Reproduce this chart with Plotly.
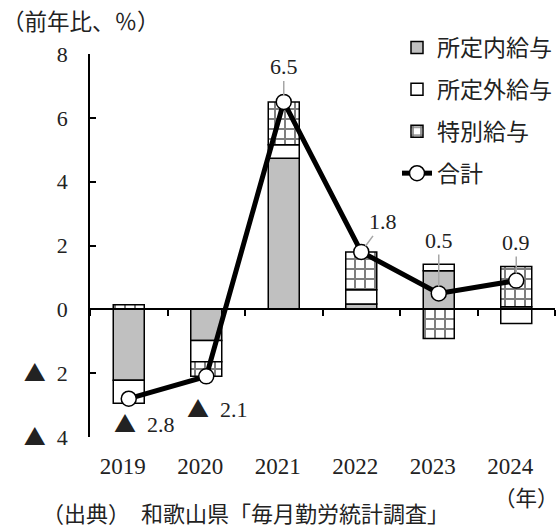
import plotly.graph_objects as go

years = ["2019", "2020", "2021", "2022", "2023", "2024"]
scheduled = [-2.22, -0.98, 4.73, 0.17, 1.21, 0.08]      # 所定内給与
overtime = [-0.72, -0.66, 0.43, 0.44, 0.20, -0.44]      # 所定外給与
special = [0.14, -0.46, 1.34, 1.19, -0.91, 1.26]        # 特別給与
total = [-2.8, -2.1, 6.5, 1.8, 0.5, 0.9]                # 合計

y_ticks = [8, 6, 4, 2, 0, -2, -4]

FONT = "Liberation Serif, Noto Sans CJK JP, DejaVu Sans"
JFONT = "Noto Sans CJK JP"
TRI = '<span style="font-family:Noto Sans CJK JP">▲</span>'

W, H = 560, 527
ML, MR, MT, MB = 90, 5, 54, 90
PW, PH = W - ML - MR, H - MT - MB

def px_x(px):
    return (px - ML) / PW

def px_y(py):
    return (H - MB - py) / PH

def fmt(v, digits=1):
    s = f"{abs(v):.{digits}f}" if digits else f"{abs(v):g}"
    return (TRI + "\u00a0\u00a0" if v < 0 else "") + s

y_ticktext = [fmt(t, 0) for t in y_ticks]

fig = go.Figure()
bw = 0.4
fig.add_trace(go.Bar(x=years, y=scheduled, name="所定内給与", width=bw,
                     marker=dict(color="#c0c0c0", line=dict(color="black", width=1.5)),
                     legendgroup="a"))
fig.add_trace(go.Bar(x=years, y=overtime, name="所定外給与", width=bw,
                     marker=dict(color="white", line=dict(color="black", width=1.5)),
                     legendgroup="b"))
fig.add_trace(go.Bar(x=years, y=special, name="特別給与", width=bw,
                     marker=dict(color="white", line=dict(color="black", width=1.5),
                                 pattern=dict(shape="+", fgcolor="black", bgcolor="white",
                                              size=10, solidity=0.36)),
                     legendgroup="c"))
fig.add_trace(go.Scatter(x=years, y=total, name="合計", mode="lines+markers",
                         line=dict(color="black", width=5),
                         marker=dict(symbol="circle", size=15, color="white",
                                     line=dict(color="black", width=1.5)),
                         legendgroup="d"))
# invisible trace that carries the zero-line axis with boundary ticks
fig.add_trace(go.Scatter(x=years, y=[None] * len(years), xaxis="x2", showlegend=False,
                         hoverinfo="skip", mode="markers"))

# value labels (category axes take the category index for annotations)
offsets = [
    dict(showarrow=False, xshift=16, yshift=-23),
    dict(showarrow=False, xshift=11, yshift=-31),
    dict(showarrow=True, ax=0, ay=-35),
    dict(showarrow=True, ax=22, ay=-30),
    dict(showarrow=True, ax=0, ay=-53),
    dict(showarrow=True, ax=0, ay=-38),
]
for i, (v, o) in enumerate(zip(total, offsets)):
    fig.add_annotation(x=i, y=v, xref="x", yref="y", text=fmt(v),
                       font=dict(family=FONT, size=22, color="#222"),
                       arrowhead=0, arrowcolor="#a6a6a6", arrowwidth=1.5, standoff=7,
                       **o)

fig.add_annotation(xref="paper", yref="paper", x=px_x(0), y=px_y(20),
                   xanchor="left", yanchor="middle", showarrow=False,
                   text="（前年比、％）", font=dict(family=JFONT, size=22.5, color="#222"))
fig.add_annotation(xref="paper", yref="paper", x=px_x(561), y=px_y(497),
                   xanchor="right", yanchor="middle", showarrow=False,
                   text="（年）", font=dict(family=JFONT, size=21.5, color="#222"))
fig.add_annotation(xref="paper", yref="paper", x=px_x(40), y=px_y(512),
                   xanchor="left", yanchor="middle", showarrow=False,
                   text="（出典）\u2002和歌山県「毎月勤労統計調査」",
                   font=dict(family=JFONT, size=22, color="#222"))

fig.update_layout(
    width=W, height=H,
    margin=dict(l=ML, r=MR, t=MT, b=MB, autoexpand=False),
    paper_bgcolor="white", plot_bgcolor="white",
    barmode="relative",
    showlegend=True,
    legend=dict(xref="container", yref="container", x=397 / W, y=1 - 26 / H,
                xanchor="left", yanchor="top", traceorder="grouped", tracegroupgap=9,
                font=dict(family=JFONT, size=23, color="#222"), bgcolor="rgba(0,0,0,0)"),
    xaxis=dict(type="category", range=[-0.5, 5.5], showline=False, ticks="", showgrid=False,
               zeroline=False, tickfont=dict(family=FONT, size=23, color="#222"),
               ticklabelstandoff=13, ticklabelshift=-6),
    xaxis2=dict(type="category", overlaying="x", anchor="free", position=1 / 3, side="bottom",
                range=[-0.5, 5.5], tickson="boundaries",
                showticklabels=False, ticks="outside", ticklen=6, tickwidth=1.5, tickcolor="black",
                showline=True, linecolor="black", linewidth=1.5, showgrid=False, zeroline=False),
    yaxis=dict(range=[-4, 8], tickvals=y_ticks, ticktext=y_ticktext, showgrid=False,
               zeroline=False, showline=True, linecolor="black", linewidth=1.5,
               ticks="inside", ticklen=6, tickwidth=1.5, tickcolor="black",
               tickfont=dict(family=FONT, size=22, color="#222"), ticklabelstandoff=16),
)

fig.write_html("out.html", post_script="document.body.style.margin='0';",
               config={"displayModeBar": False})
